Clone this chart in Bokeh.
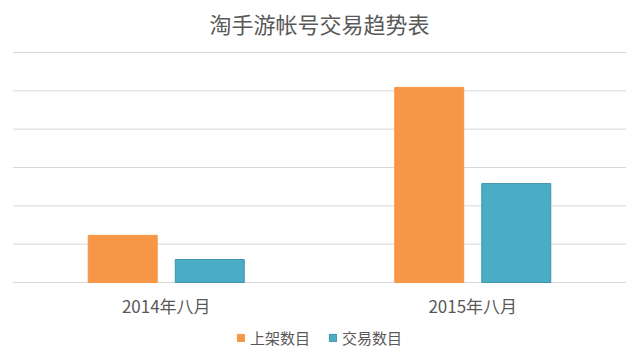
from bokeh.plotting import figure
from bokeh.models import FactorRange, Range1d, Legend, LegendItem, ColumnDataSource
from bokeh.core.properties import value
from bokeh.transform import dodge
from bokeh.embed import file_html
from bokeh.resources import INLINE

title_text = ["淘手游帐号交易趋势表"]
categories = ["2014年八月", "2015年八月"]
series_names = ["上架数目", "交易数目"]
listed = [1230, 5090]
traded = [600, 2580]
y_ticks = [0, 1000, 2000, 3000, 4000, 5000, 6000]

ORANGE = "#F79646"
TEAL = "#4BACC6"
TEXT = "#595959"
GRID = "#D9D9D9"
CJK = "Noto Sans CJK SC"

W, H = 638, 356
# plotting area inside the canvas (pixels)
left_px, right_px, top_px, base_px = 12, 625, 52, 282
y_max = y_ticks[-1]
ppu = (base_px - top_px) / y_max          # pixels per data unit (y)
cat_px = (right_px - left_px) / len(categories)  # pixels per category

src = ColumnDataSource(dict(cat=categories, listed=listed, traded=traded))

x_range = FactorRange(*categories, range_padding=(left_px + (W - right_px)) / 2 / cat_px,
                      range_padding_units="absolute")
y_range = Range1d(-(H - base_px) / ppu, base_px / ppu)

p = figure(width=W, height=H, x_range=x_range, y_range=y_range,
           output_backend="svg", toolbar_location=None,
           min_border=0, min_border_left=0, min_border_right=0,
           min_border_top=0, min_border_bottom=0)
p.outline_line_color = None
p.background_fill_color = "white"
p.border_fill_color = "white"
p.xaxis.visible = False
p.yaxis.visible = False
p.xgrid.visible = False
p.ygrid.visible = False

# horizontal grid lines spanning the category area
p.segment(x0=[0] * len(y_ticks), x1=[len(categories)] * len(y_ticks),
          y0=y_ticks, y1=y_ticks, line_color=GRID, line_width=1)

bw = 0.225
off = 0.142
r1 = p.vbar(x=dodge("cat", -off, range=p.x_range), top="listed", width=bw, source=src,
            fill_color=ORANGE, line_color=ORANGE)
r2 = p.vbar(x=dodge("cat", off, range=p.x_range), top="traded", width=bw, source=src,
            fill_color=TEAL, line_color="#3F93AB")

# category labels (x axis)
p.text(x="cat", y=-(305 - base_px) / ppu, text="cat", source=src,
       text_font=value(CJK), text_font_size="17px", text_color=TEXT,
       text_align="center", text_baseline="middle")

# title
p.text(x=[len(categories) / 2], y=[(base_px - 22) / ppu], text=title_text,
       text_font=value(CJK), text_font_size="22px", text_color=TEXT,
       text_align="center", text_baseline="middle")

legend = Legend(items=[LegendItem(label=series_names[0], renderers=[r1]),
                       LegendItem(label=series_names[1], renderers=[r2])],
                orientation="horizontal", location=(236, 8),
                glyph_width=9, glyph_height=9, label_standoff=5, spacing=18,
                label_text_font=CJK, label_text_font_size="15px",
                label_text_color=TEXT, border_line_color=None,
                background_fill_alpha=0, padding=0, margin=0)
p.add_layout(legend)

open("out.html", "w").write(file_html(p, INLINE))
